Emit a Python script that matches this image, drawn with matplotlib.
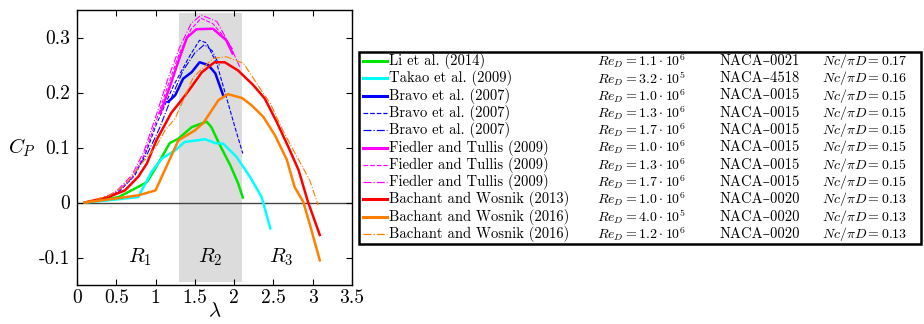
import matplotlib
matplotlib.use('Agg')
import matplotlib.pyplot as plt
from matplotlib.patches import Rectangle
from matplotlib.lines import Line2D

plt.rcParams['font.family'] = ['cmr10', 'DejaVu Serif']
plt.rcParams['mathtext.fontset'] = 'cm'
plt.rcParams['axes.unicode_minus'] = False

# Li et al. (2014)
li_x = [0.1, 0.3, 0.53, 0.72, 0.89, 1.01, 1.18, 1.29, 1.46, 1.61, 1.65, 1.71, 1.82, 1.95, 2.05, 2.11]
li_y = [0, 0.004, 0.01, 0.024, 0.037, 0.065, 0.108, 0.116, 0.137, 0.145, 0.147, 0.137, 0.104, 0.068, 0.035, 0.009]
# Takao et al. (2009)
takao_x = [0.1, 0.4, 0.78, 0.95, 1.08, 1.25, 1.37, 1.63, 1.76, 1.86, 2.03, 2.2, 2.35, 2.46]
takao_y = [0, 0.004, 0.01, 0.056, 0.08, 0.095, 0.11, 0.115, 0.108, 0.107, 0.083, 0.047, 0.01, -0.047]
# Bravo et al. (2007)
bravo1_x = [1.16, 1.25, 1.35, 1.46, 1.56, 1.67, 1.76, 1.86]
bravo1_y = [0.183, 0.195, 0.225, 0.237, 0.255, 0.25, 0.235, 0.195]
bravo2_x = [0.1, 0.3, 0.53, 0.74, 0.89, 1.01, 1.23, 1.44, 1.56, 1.65, 1.78, 1.9, 2.01, 2.11]
bravo2_y = [0, 0.006, 0.019, 0.05, 0.095, 0.142, 0.213, 0.268, 0.295, 0.29, 0.252, 0.192, 0.137, 0.089]
bravo3_x = [0.1, 0.3, 0.5, 0.7, 0.9, 1.05, 1.2, 1.35, 1.5, 1.62, 1.72, 1.82]
bravo3_y = [0, 0.006, 0.018, 0.045, 0.09, 0.135, 0.19, 0.24, 0.272, 0.287, 0.276, 0.247]
# Fiedler and Tullis (2009)
fied1_x = [1.06, 1.18, 1.31, 1.40, 1.52, 1.73, 1.90, 1.98]
fied1_y = [0.162, 0.21, 0.265, 0.30, 0.315, 0.316, 0.295, 0.271]
fied2_x = [0.1, 0.3, 0.5, 0.7, 0.85, 1.0, 1.15, 1.3, 1.45, 1.58, 1.73, 1.88, 1.99]
fied2_y = [0, 0.006, 0.018, 0.045, 0.085, 0.145, 0.21, 0.27, 0.315, 0.335, 0.325, 0.3, 0.277]
fied3_x = [0.1, 0.3, 0.5, 0.7, 0.85, 1.0, 1.15, 1.3, 1.45, 1.58, 1.78, 1.95, 2.07]
fied3_y = [0, 0.006, 0.02, 0.05, 0.092, 0.155, 0.222, 0.28, 0.325, 0.341, 0.329, 0.285, 0.247]
# Bachant and Wosnik (2013)
bw13_x = [0.1, 0.4, 0.61, 0.78, 0.89, 1.01, 1.2, 1.33, 1.44, 1.59, 1.75, 1.88, 2.05, 2.24, 2.39, 2.54, 2.69, 2.82, 2.94, 3.09]
bw13_y = [0, 0.01, 0.022, 0.047, 0.071, 0.113, 0.163, 0.186, 0.207, 0.237, 0.255, 0.255, 0.24, 0.214, 0.189, 0.147, 0.101, 0.059, 0.001, -0.059]
# Bachant and Wosnik (2016)
bw16a_x = [0.1, 0.48, 0.78, 1.0, 1.29, 1.5, 1.61, 1.8, 1.92, 2.1, 2.22, 2.37, 2.52, 2.67, 2.77, 2.88, 2.96, 3.09]
bw16a_y = [0, 0.007, 0.013, 0.022, 0.113, 0.131, 0.145, 0.186, 0.197, 0.19, 0.177, 0.156, 0.122, 0.078, 0.028, 0.001, -0.038, -0.105]
bw16b_x = [0.1, 0.4, 0.6, 0.84, 1.0, 1.12, 1.25, 1.48, 1.73, 1.9, 2.12, 2.29, 2.46, 2.62, 2.8, 2.96, 3.07]
bw16b_y = [0, 0.012, 0.03, 0.074, 0.1, 0.131, 0.153, 0.228, 0.262, 0.265, 0.253, 0.216, 0.18, 0.131, 0.083, 0.041, -0.005]

authors = ['Li et al. (2014)', 'Takao et al. (2009)', 'Bravo et al. (2007)', 'Bravo et al. (2007)',
           'Bravo et al. (2007)', 'Fiedler and Tullis (2009)', 'Fiedler and Tullis (2009)',
           'Fiedler and Tullis (2009)', 'Bachant and Wosnik (2013)', 'Bachant and Wosnik (2016)',
           'Bachant and Wosnik (2016)']
re_vals = [r'1.1 \cdot 10^6', r'3.2 \cdot 10^5', r'1.0 \cdot 10^6', r'1.3 \cdot 10^6', r'1.7 \cdot 10^6',
           r'1.0 \cdot 10^6', r'1.3 \cdot 10^6', r'1.7 \cdot 10^6', r'1.0 \cdot 10^6', r'4.0 \cdot 10^5',
           r'1.2 \cdot 10^6']
foils = ['0021', '4518', '0015', '0015', '0015', '0015', '0015', '0015', '0020', '0020', '0020']
solidity = ['0.17', '0.16', '0.15', '0.15', '0.15', '0.15', '0.15', '0.15', '0.13', '0.13', '0.13']

series = [(li_x, li_y), (takao_x, takao_y), (bravo1_x, bravo1_y), (bravo2_x, bravo2_y),
          (bravo3_x, bravo3_y), (fied1_x, fied1_y), (fied2_x, fied2_y), (fied3_x, fied3_y),
          (bw13_x, bw13_y), (bw16a_x, bw16a_y), (bw16b_x, bw16b_y)]
colors = ['#00e600', '#00ffff', '#0000ff', '#0000ff', '#0000ff', '#ff00ff', '#ff00ff', '#ff00ff',
          '#ff0000', '#ff7f00', '#ff7f00']
styles = ['-', '-', '-', '--', '-.', '-', '--', '-.', '-', '-', '-.']
widths = [1.8, 1.8, 1.8, 0.8, 0.8, 1.8, 0.8, 0.8, 1.8, 1.8, 0.8]

fig = plt.figure(figsize=(9.24, 3.24), dpi=100)
ax = fig.add_axes([77 / 924, 39 / 324, 275 / 924, 275 / 324])

ax.add_patch(Rectangle((1.3, -0.145), 0.8, 0.49, facecolor='#dcdcdc', edgecolor='none', zorder=0))
ax.axhline(0, color='#444444', lw=1.0, zorder=1)

for (x, y), c, ls, lw in zip(series, colors, styles, widths):
    ax.plot(x, y, color=c, ls=ls, lw=lw, zorder=3)

ax.text(0.8, -0.1, r'$R_1$', fontsize=15, ha='center', va='center')
ax.text(1.7, -0.1, r'$R_2$', fontsize=15, ha='center', va='center')
ax.text(2.6, -0.1, r'$R_3$', fontsize=15, ha='center', va='center')

ax.set_xlim(0, 3.5)
ax.set_ylim(-0.15, 0.35)
ax.set_xticks([0, 0.5, 1, 1.5, 2, 2.5, 3, 3.5])
ax.set_xticklabels(['0', '0.5', '1', '1.5', '2', '2.5', '3', '3.5'])
ax.set_yticks([-0.1, 0, 0.1, 0.2, 0.3])
ax.set_yticklabels(['-0.1', '0', '0.1', '0.2', '0.3'])
ax.tick_params(direction='in', top=True, right=True, labelsize=14, length=4)
ax.tick_params(axis='x', pad=3)
ax.tick_params(axis='y', pad=5)
ax.set_xlabel(r'$\lambda$', fontsize=15, labelpad=-4)
ax.set_ylabel(r'$C_P$', fontsize=15, rotation=0, labelpad=12, va='center')
for s in ax.spines.values():
    s.set_linewidth(1.0)

# legend drawn as a table in figure pixels
W, H = 924.0, 324.0
fig.add_artist(Rectangle((358.5 / W, 1 - 244 / H), 562 / W, 192 / H, transform=fig.transFigure,
                         facecolor='white', edgecolor='black', lw=1.8))
for i in range(len(authors)):
    yc = 1 - (61 + 17.3 * i) / H
    fig.add_artist(Line2D([363 / W, 387 / W], [yc, yc], color=colors[i], ls=styles[i],
                          lw=widths[i] + 0.4 if widths[i] > 1 else 0.9, transform=fig.transFigure))
    fig.text(389 / W, yc, authors[i], fontsize=10.5, va='center', ha='left')
    fig.text(597 / W, yc, r'$Re_D = ' + re_vals[i] + '$', fontsize=10, va='center', ha='left')
    fig.text(720 / W, yc, 'NACA\u2013' + foils[i], fontsize=10.5, va='center', ha='left')
    fig.text(822 / W, yc, r'$Nc/\pi D = ' + solidity[i] + '$', fontsize=10, va='center', ha='left')

fig.savefig('out.png', dpi=100)
